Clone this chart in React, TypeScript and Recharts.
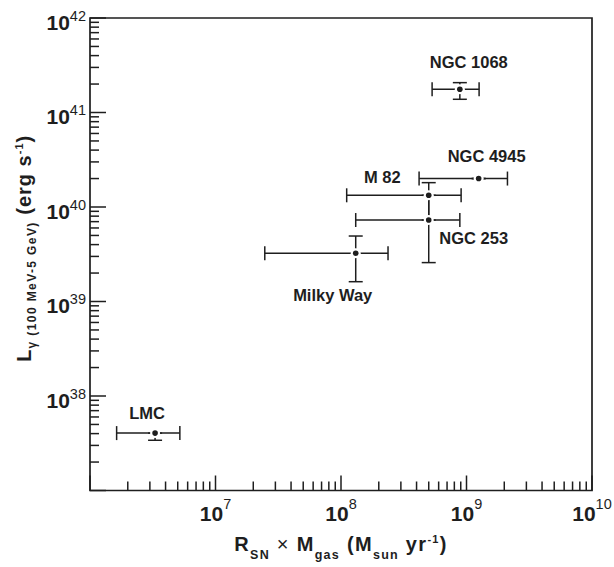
import React from "react";
import { ScatterChart, Scatter, XAxis, YAxis, ErrorBar, ReferenceArea } from "recharts";

// galaxies
const GALAXIES = ["LMC", "Milky Way", "M 82", "NGC 253", "NGC 4945", "NGC 1068"];
const SN_GAS = [3.3e6, 1.31e8, 5.0e8, 5.0e8, 1.25e9, 8.85e8];
const SN_GAS_LOW = [1.63e6, 2.47e7, 1.11e8, 1.31e8, 4.19e8, 5.32e8];
const SN_GAS_HIGH = [5.2e6, 2.37e8, 9.06e8, 8.85e8, 2.12e9, 1.26e9];
const L_GAMMA = [4.05e37, 3.24e39, 1.33e40, 7.28e39, 2.0e40, 1.76e41];
const L_GAMMA_LOW = [3.4e37, 1.62e39, 7.28e39, 2.58e39, 2.0e40, 1.38e41];
const L_GAMMA_HIGH = [4.05e37, 4.93e39, 1.81e40, 1.33e40, 2.0e40, 2.07e41];

// axis decades
const X_DECADES = [6, 7, 8, 9, 10];
const Y_DECADES = [37, 38, 39, 40, 41, 42];
const X_LABELED = [7, 8, 9, 10];
const Y_LABELED = [38, 39, 40, 41, 42];
const MINOR_STEPS = [2, 3, 4, 5, 6, 7, 8, 9];

const INK = "#1e1e1e";
const FONT = "'Liberation Sans', Arial, Helvetica, sans-serif";

// label offset from the marker (dx, dy of the label centre)
const LABEL_OFFSETS: Record<string, [number, number]> = {
  LMC: [-8, -20],
  "Milky Way": [-23, 41.5],
  "M 82": [-46.5, -18.5],
  "NGC 253": [45, 18.5],
  "NGC 4945": [8, -22.5],
  "NGC 1068": [9, -27.5],
};

const pow10 = (d: number) => Number(`1e${d}`);
const logTicks = (decades: number[]) => [
  ...decades.map(pow10),
  ...decades.slice(0, -1).flatMap((d) => MINOR_STEPS.map((m) => m * pow10(d))),
];

const rows = GALAXIES.map((name, i) => ({
  name,
  x: SN_GAS[i],
  y: L_GAMMA[i],
  xErr: [SN_GAS[i] - SN_GAS_LOW[i], SN_GAS_HIGH[i] - SN_GAS[i]],
  yErr: [L_GAMMA[i] - L_GAMMA_LOW[i], L_GAMMA_HIGH[i] - L_GAMMA[i]],
}));

const decadeOf = (v: number) => {
  const lg = Math.log10(v);
  const exp = Math.round(lg);
  return { exp, major: Math.abs(lg - exp) < 1e-6 };
};

const YTick = ({ x, y, payload }: any) => {
  const { exp, major } = decadeOf(payload.value);
  return (
    <g>
      <line x1={x} x2={x + (major ? 16 : 9)} y1={y} y2={y} stroke={INK} strokeWidth={1.5} />
      {major && Y_LABELED.includes(exp) && (
        <text x={x - 4} y={y + 11.5} textAnchor="end" fill={INK} fontFamily={FONT}>
          <tspan fontSize={21} fontWeight="bold">10</tspan>
          <tspan fontSize={14.5} dy={-9}>{exp}</tspan>
        </text>
      )}
    </g>
  );
};

const XTick = ({ x, y, payload }: any) => {
  const { exp, major } = decadeOf(payload.value);
  return (
    <g>
      <line x1={x} x2={x} y1={y} y2={y - (major ? 15 : 9)} stroke={INK} strokeWidth={1.5} />
      {major && X_LABELED.includes(exp) && (
        <text x={x} y={y + 30} textAnchor="middle" fill={INK} fontFamily={FONT}>
          <tspan fontSize={21} fontWeight="bold">10</tspan>
          <tspan fontSize={14.5} dy={-12}>{exp}</tspan>
        </text>
      )}
    </g>
  );
};

const XTitle = (props: any) => {
  const vb = props.viewBox || { x: 90, y: 490.5, width: 502, height: 76.5 };
  const cx = vb.x + vb.width / 2;
  const by = vb.y + 60.5;
  return (
    <text x={cx} y={by} textAnchor="middle" fill={INK} fontFamily={FONT} fontWeight="bold" fontSize={20} letterSpacing={1.3}>
      <tspan>R</tspan>
      <tspan fontSize={12.5} dy={7.5}>SN</tspan>
      <tspan dy={-7.5} fontWeight="normal">{" \u00d7 "}</tspan>
      <tspan>M</tspan>
      <tspan fontSize={12.5} dy={7.5}>gas</tspan>
      <tspan dy={-7.5}>{" (M"}</tspan>
      <tspan fontSize={12.5} dy={7.5}>sun</tspan>
      <tspan dy={-7.5}>{" yr"}</tspan>
      <tspan fontSize={11} dy={-8}>-1</tspan>
      <tspan dy={8}>)</tspan>
    </text>
  );
};

const YTitle = (props: any) => {
  const vb = props.viewBox || { x: 0, y: 18, width: 90, height: 472.5 };
  const cx = 31;
  const cy = vb.y + vb.height / 2 - 6;
  return (
    <text
      x={cx}
      y={cy}
      transform={`rotate(-90 ${cx} ${cy})`}
      textAnchor="middle"
      fill={INK}
      fontFamily={FONT}
      fontWeight="bold"
      fontSize={20}
      letterSpacing={1}
    >
      <tspan>L</tspan>
      <tspan fontSize={12} dy={5} letterSpacing={1.4}>{"\u03b3 (100 MeV-5 GeV)"}</tspan>
      <tspan dy={-5}>{" (erg s"}</tspan>
      <tspan fontSize={11} dy={-8}>-1</tspan>
      <tspan dy={8}>)</tspan>
    </text>
  );
};

const Marker = (props: any) => {
  const { cx, cy, payload } = props;
  const [dx, dy] = LABEL_OFFSETS[payload.name] || [0, -20];
  return (
    <g>
      <circle cx={cx} cy={cy} r={5} fill="#fff" />
      <circle cx={cx} cy={cy} r={2.8} fill={INK} />
      <text
        x={cx + dx}
        y={cy + dy + 5.9}
        textAnchor="middle"
        fill={INK}
        fontFamily={FONT}
        fontWeight="bold"
        fontSize={16.5}
      >
        {payload.name}
      </text>
    </g>
  );
};

export default function App() {
  return (
    <div style={{ position: "absolute", left: 0, top: 0, width: 614, height: 567, background: "#fff" }}>
      <ScatterChart width={614} height={567} margin={{ top: 18, right: 22, bottom: 0, left: 0 }}>
        <XAxis
          type="number"
          dataKey="x"
          scale="log"
          domain={[1e6, 1e10]}
          allowDataOverflow
          ticks={logTicks(X_DECADES)}
          interval={0}
          tick={<XTick />}
          tickLine={false}
          tickSize={0}
          tickMargin={0}
          axisLine={false}
          height={76.5}
          label={(p: any) => <XTitle {...p} />}
        />
        <YAxis
          type="number"
          dataKey="y"
          scale="log"
          domain={[1e37, 1e42]}
          allowDataOverflow
          ticks={logTicks(Y_DECADES)}
          interval={0}
          tick={<YTick />}
          tickLine={false}
          tickSize={0}
          tickMargin={0}
          axisLine={false}
          width={90}
          label={(p: any) => <YTitle {...p} />}
        />
        <ReferenceArea
          x1={1e6}
          x2={1e10}
          y1={1e37}
          y2={1e42}
          fill="none"
          fillOpacity={0}
          stroke={INK}
          strokeWidth={1.7}
          ifOverflow="visible"
        />
        <Scatter data={rows} shape={<Marker />} isAnimationActive={false}>
          <ErrorBar dataKey="xErr" direction="x" width={7} stroke={INK} strokeWidth={1.5} isAnimationActive={false} />
          <ErrorBar dataKey="yErr" direction="y" width={7} stroke={INK} strokeWidth={1.5} isAnimationActive={false} />
        </Scatter>
      </ScatterChart>
    </div>
  );
}
